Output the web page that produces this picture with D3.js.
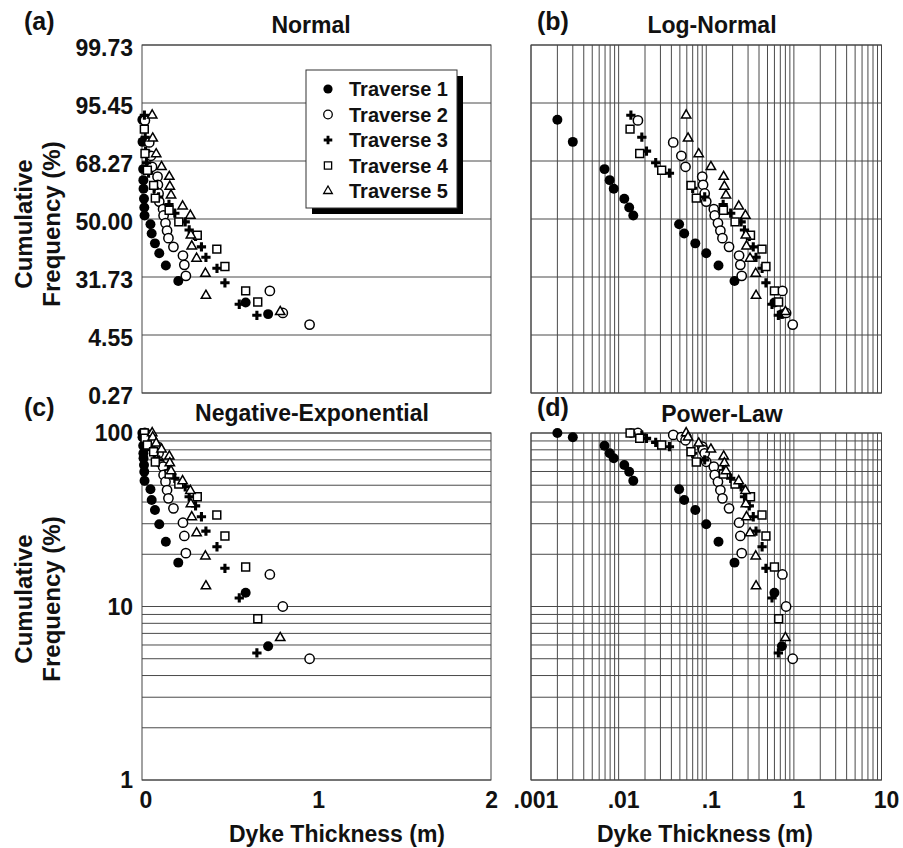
<!DOCTYPE html>
<html>
<head>
<meta charset="utf-8">
<script src="https://cdn.jsdelivr.net/npm/d3@7/dist/d3.min.js"></script>
<style>
  body { margin: 0; background: #fff; }
  svg text { font-family: "Liberation Sans", Arial, sans-serif; fill: #111; }
</style>
</head>
<body>
<svg id="chart" width="903" height="848"></svg>
<script>
// dyke thickness (m), cumulative frequency (%) and probability-paper position (std devs)
var traverseNames = ["Traverse 1", "Traverse 2", "Traverse 3", "Traverse 4", "Traverse 5"];

var t1Thick = [0.002, 0.003, 0.0069, 0.0079, 0.0088, 0.0116, 0.0132, 0.0147, 0.049, 0.056, 0.075, 0.10, 0.138, 0.21, 0.60, 0.73];
var t1Freq = [100, 94.4, 84.5, 76.4, 71.5, 65.4, 59.8, 53.1, 47.4, 41.1, 36, 29.8, 23.6, 17.9, 12.0, 5.9];
var t1Sigma = [1.71, 1.33, 0.86, 0.67, 0.52, 0.35, 0.20, 0.06, -0.09, -0.25, -0.42, -0.59, -0.80, -1.07, -1.44, -1.64];

var t2Thick = [0.0166, 0.042, 0.052, 0.058, 0.090, 0.092, 0.096, 0.100, 0.122, 0.125, 0.136, 0.145, 0.153, 0.182, 0.237, 0.245, 0.254, 0.74, 0.815, 0.97];
var t2Freq = [100, 97.5, 94.5, 90.8, 83.4, 80, 76.4, 68.3, 64, 57.3, 52.4, 46.9, 42, 36.8, 30.4, 25.5, 20.3, 15.3, 10, 5.0];
var t2Sigma = [1.70, 1.32, 1.09, 0.90, 0.73, 0.59, 0.44, 0.30, 0.17, 0.06, -0.07, -0.20, -0.33, -0.48, -0.63, -0.79, -0.98, -1.24, -1.62, -1.82];

var t3Thick = [0.0138, 0.0184, 0.0208, 0.0265, 0.038, 0.070, 0.096, 0.156, 0.19, 0.25, 0.273, 0.31, 0.344, 0.37, 0.434, 0.48, 0.563, 0.665];
var t3Freq = [100, 97.3, 93.1, 88.3, 83.4, 76.4, 70, 60.6, 54.8, 49, 42.9, 38, 32.9, 27.2, 22.1, 16.6, 11.2, 5.4];
var t3Sigma = [1.79, 1.41, 1.17, 0.97, 0.79, 0.53, 0.38, 0.25, 0.10, -0.05, -0.19, -0.30, -0.48, -0.66, -0.85, -1.10, -1.47, -1.66];

var t4Thick = [0.0135, 0.0174, 0.031, 0.067, 0.077, 0.157, 0.213, 0.32, 0.433, 0.48, 0.60, 0.67];
var t4Freq = [100, 93.2, 85.3, 78, 68.1, 58, 50.8, 42.9, 33.7, 25.5, 16.9, 8.5];
var t4Sigma = [1.55, 1.13, 0.84, 0.58, 0.36, 0.15, -0.05, -0.28, -0.52, -0.82, -1.24, -1.43];

var t5Thick = [0.059, 0.062, 0.082, 0.113, 0.158, 0.161, 0.168, 0.235, 0.28, 0.283, 0.288, 0.316, 0.367, 0.37, 0.80];
var t5Freq = [100, 94.5, 87.2, 80.5, 73.4, 67.1, 60.4, 52.9, 46.5, 39, 32.8, 26.5, 19.5, 13.1, 6.6];
var t5Sigma = [1.79, 1.39, 1.12, 0.90, 0.73, 0.56, 0.41, 0.22, 0.06, -0.28, -0.47, -0.68, -0.94, -1.32, -1.60];

// axis ticks
var sigmaTicks = [-3, -2, -1, 0, 1, 2, 3];
var sigmaLabels = ["0.27", "4.55", "31.73", "50.00", "68.27", "95.45", "99.73"];
var freqLabelTicks = [1, 10, 100];
var linTicks = [0, 1, 2];
var logTicks = [0.001, 0.01, 0.1, 1, 10];
var logLabels = [".001", ".01", ".1", "1", "10"];

var svg = d3.select("#chart");

var series = [
  { name: traverseNames[0], thick: t1Thick, freq: t1Freq, sigma: t1Sigma, sym: d3.symbolCircle, size: 78, fill: "#000", stroke: "none" },
  { name: traverseNames[1], thick: t2Thick, freq: t2Freq, sigma: t2Sigma, sym: d3.symbolCircle, size: 68, fill: "#fff", stroke: "#000" },
  { name: traverseNames[2], thick: t3Thick, freq: t3Freq, sigma: t3Sigma, sym: d3.symbolCross, size: 48, fill: "#000", stroke: "none" },
  { name: traverseNames[3], thick: t4Thick, freq: t4Freq, sigma: t4Sigma, sym: d3.symbolSquare, size: 62, fill: "#fff", stroke: "#000" },
  { name: traverseNames[4], thick: t5Thick, freq: t5Freq, sigma: t5Sigma, sym: d3.symbolTriangle, size: 38, fill: "#fff", stroke: "#000" }
];

// scales
var xLinTop = d3.scaleLinear().domain([0, 2.02]).range([142, 491]);
var xLinBot = xLinTop.copy();
var xLog = d3.scaleLog().domain([0.001, 10]).range([531, 881.5]);
var ySigma = d3.scaleLinear().domain([-3, 3]).range([393, 45]);
var yFreq = d3.scaleLog().domain([1, 100]).range([780, 433]);

function drawPanel(x, y, opt) {
  var g = svg.append("g");
  var x0 = x.range()[0], x1 = x.range()[1];
  var y0 = y.range()[1], y1 = y.range()[0];

  // horizontal grid
  var hVals = opt.logY ? y.ticks() : sigmaTicks;
  g.selectAll(".hgrid").data(hVals).join("line")
    .attr("x1", x0).attr("x2", x1)
    .attr("y1", d => y(d)).attr("y2", d => y(d))
    .attr("stroke", "#4a4a4a").attr("stroke-width", 1);

  // vertical grid on log x panels
  if (opt.logX) {
    g.selectAll(".vgrid").data(x.ticks()).join("line")
      .attr("x1", d => x(d)).attr("x2", d => x(d))
      .attr("y1", y0).attr("y2", y1)
      .attr("stroke", "#4a4a4a").attr("stroke-width", 1);
  }

  // frame
  g.append("rect")
    .attr("x", x0).attr("y", y0)
    .attr("width", x1 - x0).attr("height", y1 - y0)
    .attr("fill", "none").attr("stroke", "#444").attr("stroke-width", 1);

  // points
  series.forEach(function(s) {
    var pts = s.thick.map((t, i) => ({ t: t, v: opt.logY ? s.freq[i] : s.sigma[i] }));
    g.selectAll(null).data(pts).join("path")
      .attr("transform", d => `translate(${x(d.t)},${y(d.v)})`)
      .attr("d", d3.symbol().type(s.sym).size(s.size))
      .attr("fill", s.fill)
      .attr("stroke", s.stroke)
      .attr("stroke-width", 1.5);
  });

  // title + letter
  svg.append("text").attr("x", opt.titleX).attr("y", opt.titleY)
    .attr("text-anchor", "middle").attr("font-size", 23).attr("font-weight", "bold")
    .text(opt.title);
  svg.append("text").attr("x", opt.letterX).attr("y", opt.letterY)
    .attr("font-size", 25).attr("font-weight", "bold")
    .text(opt.letter);
  return g;
}

drawPanel(xLinTop, ySigma, { logX: false, logY: false, title: "Normal", titleX: 311, titleY: 33, letter: "(a)", letterX: 24, letterY: 30 });
drawPanel(xLog, ySigma, { logX: true, logY: false, title: "Log-Normal", titleX: 712, titleY: 33, letter: "(b)", letterX: 537, letterY: 30 });
drawPanel(xLinBot, yFreq, { logX: false, logY: true, title: "Negative-Exponential", titleX: 312, titleY: 421, letter: "(c)", letterX: 24, letterY: 416 });
drawPanel(xLog, yFreq, { logX: true, logY: true, title: "Power-Law", titleX: 722, titleY: 422, letter: "(d)", letterX: 537, letterY: 416 });

// y tick labels, panel a
svg.selectAll(".sigLab").data(sigmaTicks).join("text")
  .attr("x", 133).attr("y", d => ySigma(d) + 11)
  .attr("text-anchor", "end").attr("font-size", 23).attr("font-weight", "bold")
  .text((d, i) => sigmaLabels[i]);

// y tick labels, panel c
svg.selectAll(".freqLab").data(freqLabelTicks).join("text")
  .attr("x", 133).attr("y", d => yFreq(d) + 8)
  .attr("text-anchor", "end").attr("font-size", 23).attr("font-weight", "bold")
  .text(d => d);

// x tick labels
svg.selectAll(".linLab").data(linTicks).join("text")
  .attr("x", d => xLinBot(d) + 4).attr("y", 808)
  .attr("text-anchor", "middle").attr("font-size", 23).attr("font-weight", "bold")
  .text(d => d);
svg.selectAll(".logLab").data(logTicks).join("text")
  .attr("x", d => xLog(d) + 5).attr("y", 808)
  .attr("text-anchor", "middle").attr("font-size", 23).attr("font-weight", "bold")
  .text((d, i) => logLabels[i]);

// axis titles
[337, 705].forEach(function(cx) {
  svg.append("text").attr("x", cx).attr("y", 842)
    .attr("text-anchor", "middle").attr("font-size", 23).attr("font-weight", "bold")
    .text("Dyke Thickness (m)");
});
[224, 599].forEach(function(cy) {
  svg.append("text").attr("transform", `translate(32,${cy}) rotate(-90)`)
    .attr("text-anchor", "middle").attr("font-size", 24).attr("font-weight", "bold")
    .text("Cumulative");
  svg.append("text").attr("transform", `translate(60,${cy}) rotate(-90)`)
    .attr("text-anchor", "middle").attr("font-size", 24).attr("font-weight", "bold")
    .text("Frequency (%)");
});

// legend
var leg = svg.append("g");
leg.append("rect").attr("x", 312).attr("y", 76).attr("width", 151).attr("height", 138).attr("fill", "#000");
leg.append("rect").attr("x", 306).attr("y", 70).attr("width", 151).attr("height", 138)
  .attr("fill", "#fff").attr("stroke", "#333").attr("stroke-width", 1);
series.forEach(function(s, i) {
  var cy = 89 + i * 25.5;
  leg.append("path")
    .attr("transform", `translate(328,${cy})`)
    .attr("d", d3.symbol().type(s.sym).size(s.size * 0.85))
    .attr("fill", s.fill).attr("stroke", s.stroke).attr("stroke-width", 1.3);
  leg.append("text").attr("x", 349).attr("y", cy + 7)
    .attr("font-size", 20).attr("font-weight", "bold")
    .text(s.name);
});
</script>
</body>
</html>
